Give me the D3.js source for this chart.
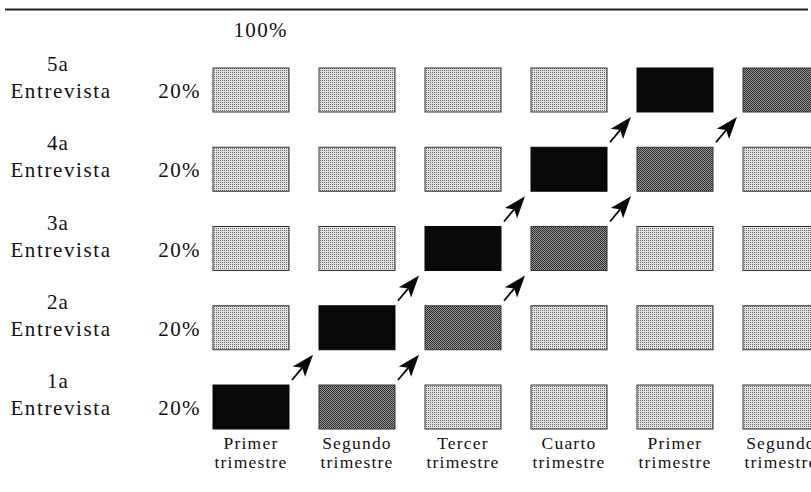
<!DOCTYPE html>
<html>
<head>
<meta charset="utf-8">
<script src="https://cdn.jsdelivr.net/npm/d3@7"></script>
<style>
  body { margin: 0; background: #fff; }
  text { font-family: "Liberation Serif", "DejaVu Serif", serif; fill: #111; }
</style>
</head>
<body>
<script>
// Datos del panel rotativo
const rowLabels = ["1a", "2a", "3a", "4a", "5a"];
const rowShare = [20, 20, 20, 20, 20];
const totalLabel = "100%";
const colTop = ["Primer", "Segundo", "Tercer", "Cuarto", "Primer", "Segundo"];
const colBottom = ["trimestre", "trimestre", "trimestre", "trimestre", "trimestre", "trimestre"];
// 0 = gris claro, 1 = gris oscuro, 2 = negro (filas de 1a a 5a)
const cellShade = [
  [2, 1, 0, 0, 0, 0],
  [0, 2, 1, 0, 0, 0],
  [0, 0, 2, 1, 0, 0],
  [0, 0, 0, 2, 1, 0],
  [0, 0, 0, 0, 2, 1]
];

const width = 811, height = 492;

const svg = d3.select("body").append("svg")
  .attr("width", width)
  .attr("height", height);

// patterns for the dotted greys
const defs = svg.append("defs");
const pLight = defs.append("pattern").attr("id", "light")
  .attr("width", 2).attr("height", 2).attr("patternUnits", "userSpaceOnUse");
pLight.append("rect").attr("width", 2).attr("height", 2).attr("fill", "#e2e2e2");
pLight.append("rect").attr("width", 1).attr("height", 1).attr("fill", "#666");

const pDark = defs.append("pattern").attr("id", "dark")
  .attr("width", 2).attr("height", 2).attr("patternUnits", "userSpaceOnUse");
pDark.append("rect").attr("width", 2).attr("height", 2).attr("fill", "#999");
pDark.append("rect").attr("width", 1).attr("height", 1).attr("fill", "#2a2a2a");
pDark.append("rect").attr("x", 1).attr("y", 1).attr("width", 1).attr("height", 1).attr("fill", "#2a2a2a");

const fills = ["url(#light)", "url(#dark)", "#080808"];

// Scales
const xscale = d3.scaleBand().domain(d3.range(colTop.length)).range([213, 819]).paddingInner(0.283);
const yscale = d3.scaleBand().domain(d3.range(rowLabels.length).reverse()).range([68, 429]).paddingInner(0.445);

// top rule
svg.append("line")
  .attr("x1", 5).attr("x2", 808).attr("y1", 9.5).attr("y2", 9.5)
  .attr("stroke", "#222").attr("stroke-width", 2);

// cells
const cells = [];
cellShade.forEach((row, r) => row.forEach((s, c) => cells.push({r, c, s})));

svg.append("g").selectAll("rect").data(cells).join("rect")
  .attr("x", d => xscale(d.c))
  .attr("y", d => yscale(d.r))
  .attr("width", xscale.bandwidth())
  .attr("height", yscale.bandwidth())
  .attr("fill", d => fills[d.s])
  .attr("stroke", d => d.s === 2 ? "#080808" : "#333")
  .attr("stroke-width", 1);

// arrows from black / dark cells to next wave, next quarter
const arrows = cells.filter(d => d.s > 0 && d.r < rowLabels.length - 1 && d.c < colTop.length - 1);
const ag = svg.append("g");
arrows.forEach(d => {
  const sx = xscale(d.c) + xscale.bandwidth() + 3;
  const sy = yscale(d.r) - 5;
  const tx = xscale(d.c + 1) - 6;
  const ty = yscale(d.r + 1) + yscale.bandwidth() + 5;
  const len = Math.hypot(tx - sx, ty - sy);
  const ux = (tx - sx) / len, uy = (ty - sy) / len;
  const nx = -uy, ny = ux;
  const L = 22, W = 8;
  const bx = tx - ux * L, by = ty - uy * L;
  ag.append("line")
    .attr("x1", sx).attr("y1", sy).attr("x2", bx + ux * 5).attr("y2", by + uy * 5)
    .attr("stroke", "#080808").attr("stroke-width", 1.8);
  ag.append("path")
    .attr("d", `M${tx},${ty}L${bx + nx * W},${by + ny * W}L${bx + ux * 5},${by + uy * 5}L${bx - nx * W},${by - ny * W}Z`)
    .attr("fill", "#080808");
});

// row labels
const rl = svg.append("g");
rowLabels.forEach((lab, r) => {
  const cy = yscale(r) + yscale.bandwidth() / 2;
  rl.append("text").attr("x", 58).attr("y", cy - 19).attr("text-anchor", "middle")
    .style("font-size", "21px").style("letter-spacing", "1.2px").text(lab);
  rl.append("text").attr("x", 61).attr("y", cy + 8).attr("text-anchor", "middle")
    .style("font-size", "21px").style("letter-spacing", "1.6px").text("Entrevista");
  rl.append("text").attr("x", 201).attr("y", cy + 8).attr("text-anchor", "end")
    .style("font-size", "21px").style("letter-spacing", "1.4px").text(rowShare[r] + "%");
});

svg.append("text").attr("x", 288).attr("y", 37).attr("text-anchor", "end")
  .style("font-size", "21px").style("letter-spacing", "1.4px").text(totalLabel);

// column labels
const cl = svg.append("g");
colTop.forEach((lab, c) => {
  const cx = xscale(c) + xscale.bandwidth() / 2;
  cl.append("text").attr("x", cx).attr("y", 449).attr("text-anchor", "middle")
    .style("font-size", "17.5px").style("letter-spacing", "1.2px").text(lab);
  cl.append("text").attr("x", cx).attr("y", 468).attr("text-anchor", "middle")
    .style("font-size", "17.5px").style("letter-spacing", "1.2px").text(colBottom[c]);
});
</script>
</body>
</html>
